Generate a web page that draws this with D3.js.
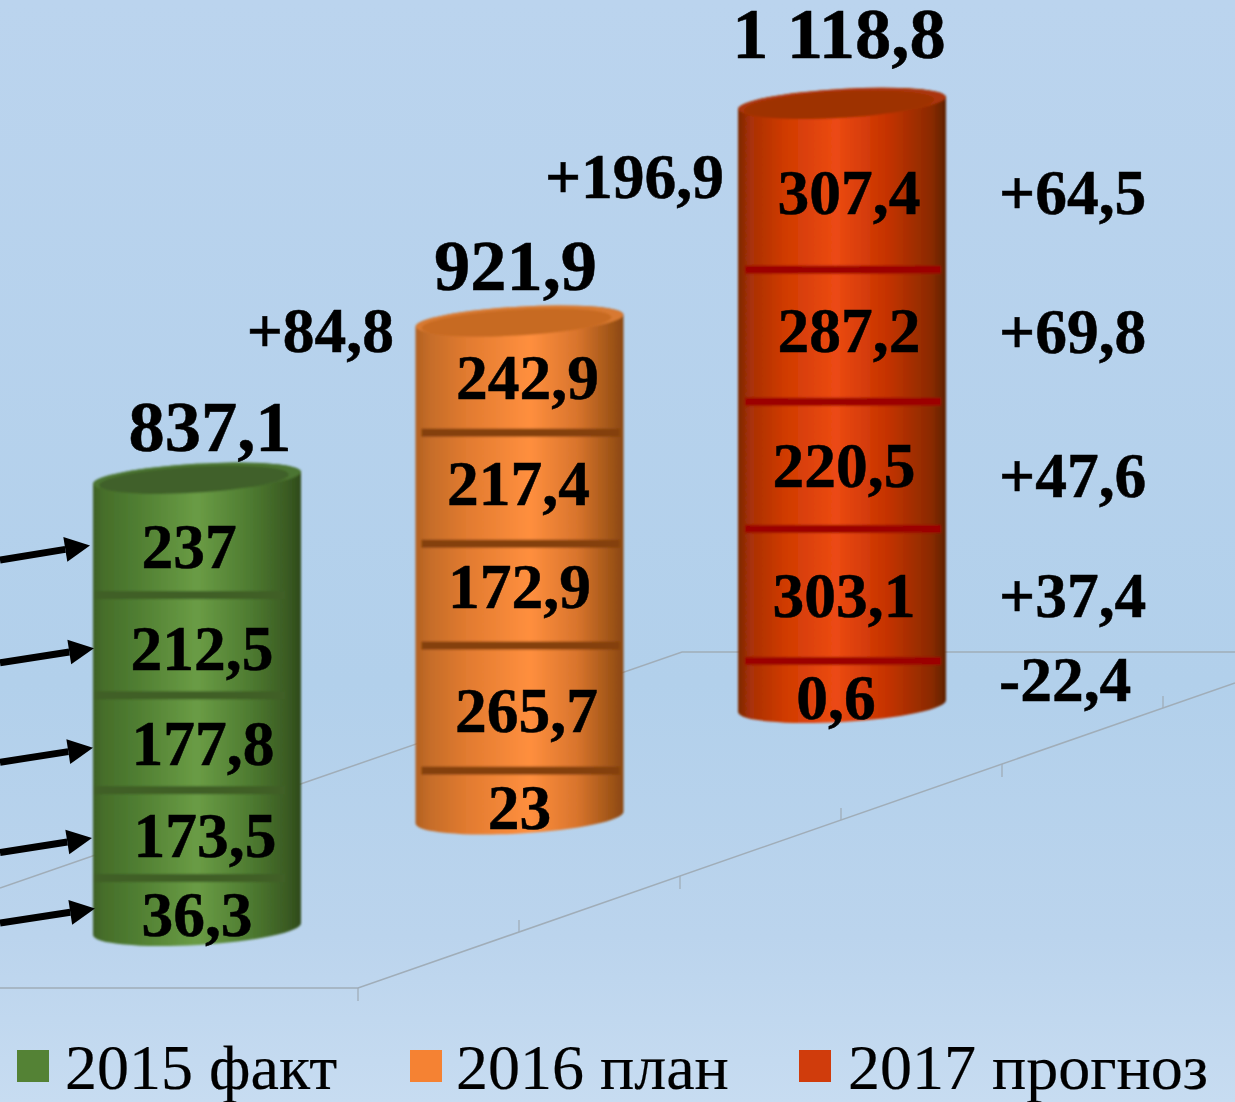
<!DOCTYPE html>
<html lang="ru">
<head>
<meta charset="utf-8">
<script src="https://cdn.jsdelivr.net/npm/d3@7"></script>
<style>
html,body{margin:0;padding:0;background:#bad4ed;overflow:hidden}
svg{display:block}
text{font-family:"Liberation Serif","Times New Roman",serif;fill:#000;stroke:#000;stroke-width:.5;filter:url(#softText)}
</style>
</head>
<body>
<svg id="chart" width="1235" height="1102"></svg>
<script>
// ---- data ----
const categories = ["2015 факт", "2016 план", "2017 прогноз"];
const totals = [837.1, 921.9, 1118.8];
// printed labels, bottom segment first
const labels2015 = [36.3, 173.5, 177.8, 212.5, 237];
const labels2016 = [23, 265.7, 172.9, 217.4, 242.9];
const labels2017 = [0.6, 303.1, 220.5, 287.2, 307.4];
// drawn segment heights as they appear in the picture (the source chart's
// segments do not follow its printed labels), in the same units, bottom first
const drawn2015 = [94.6, 163, 176, 186, 217.5];
const drawn2016 = [87, 232, 189, 206, 207.9];
const drawn2017 = [83.5, 245, 236, 245, 309.3];
const changes2017 = [-22.4, 37.4, 47.6, 69.8, 64.5];
const changesTotal = [84.8, 196.9];
const colors = ["#548235", "#f58233", "#d03c0c"];

// ---- layout ----
const W = 1235, H = 1102;
const svg = d3.select("#chart");
const defs = svg.append("defs");

const xPos = d3.scalePoint().domain(categories).range([197, 842]);
const yBase = d3.scalePoint().domain(categories).range([929, 706]);
const hScale = d3.scaleLinear().domain([0, 1118.8]).range([0, 603]);
const RX = 104, TILT = -3.3, RY_TOP = 14, RY_BOT = 16;
const DY = RX * Math.sin(-TILT * Math.PI / 180);

const fmtLocale = d3.formatLocale({decimal: ",", thousands: " ", grouping: [3], currency: ["", ""]});
const fmt1 = fmtLocale.format(",.1f");
const fmtLabel = v => Number.isInteger(v) ? String(v) : fmt1(v);
const fmtSigned = v => (v > 0 ? "+" : "-") + fmt1(Math.abs(v));

// background
const bg = defs.append("linearGradient").attr("id", "bg").attr("x1", 0).attr("x2", 0).attr("y1", 0).attr("y2", 1);
[[0, "#bbd4ee"], [0.62, "#b2d0eb"], [0.85, "#bbd4ed"], [1, "#c7dcf1"]].forEach(s =>
  bg.append("stop").attr("offset", s[0]).attr("stop-color", s[1]));
svg.append("rect").attr("width", W).attr("height", H).attr("fill", "url(#bg)");

defs.append("filter").attr("id", "soft").append("feGaussianBlur").attr("stdDeviation", 0.9);
defs.append("filter").attr("id", "softText").append("feGaussianBlur").attr("stdDeviation", 0.45);

// floor / wall lines of the 3D frame
const frame = svg.append("g").attr("fill", "none").attr("stroke", "#a0adb8").attr("stroke-width", 1.5);
const sideY = d3.scaleLinear().domain([358, 1235]).range([988, 683]);
const wallY = d3.scaleLinear().domain([0, 682]).range([888, 652]);
frame.append("path").attr("d", d3.line()([[0, 988], [358, 988], [1235, sideY(1235)]]));
frame.append("path").attr("d", d3.line()([[0, wallY(0)], [682, wallY(682)], [1235, 652]]));
const tickX = d3.range(6).map(i => 358 + i * 161);
frame.selectAll("line").data(tickX).join("line")
  .attr("x1", d => d).attr("x2", d => d)
  .attr("y1", d => sideY(d))
  .attr("y2", (d, i) => sideY(d) + (i % 2 === 0 ? 13 : -12))
  .attr("stroke-width", 1.3);

// gradients for the cylinders
const bodyStops = [
  [[0, "#3f6126"], [0.05, "#466e2a"], [0.2, "#4f7d31"], [0.5, "#6a9c45"], [0.75, "#4f7c31"], [0.93, "#3b5c23"], [1, "#2f4a1a"]],
  [[0, "#b2601f"], [0.06, "#c46c28"], [0.25, "#e27b30"], [0.55, "#ff8f3e"], [0.78, "#d8742c"], [0.94, "#a05518"], [1, "#8a4710"]],
  [[0, "#7c2806"], [0.06, "#a83007"], [0.22, "#cf3a02"], [0.47, "#ec4a13"], [0.72, "#c43200"], [0.93, "#8a2b02"], [1, "#5e2207"]]
];
const capFill = ["#4c7530", "#d87930", "#ab3608"];
const capInner = ["#40602a", "#c76a24", "#9e3002"];
const dividerFill = ["#3f5f26", "#84400f", "#9c0000"];
bodyStops.forEach((stops, i) => {
  const g = defs.append("linearGradient").attr("id", "body" + i).attr("x1", 0).attr("x2", 1).attr("y1", 0).attr("y2", 0);
  stops.forEach(s => g.append("stop").attr("offset", s[0]).attr("stop-color", s[1]));
});

const series = categories.map((c, i) => {
  const drawn = [drawn2015, drawn2016, drawn2017][i];
  const printed = [labels2015, labels2016, labels2017][i];
  const cx = xPos(c), base = yBase(c);
  const top = base - hScale(totals[i]);
  const tops = d3.cumsum(drawn).map(v => base - hScale(v));
  const segs = printed.map((v, k) => ({
    value: v,
    yTop: tops[k],
    yBot: k === 0 ? base : tops[k - 1]
  }));
  return {c, i, cx, base, top, segs};
});

// label nudges relative to the segment centre (bottom segment first)
const nudgeX = [[0, 8, 6, 5, -8], [0, 7, 0, -1, 8], [-6, 2, 2, 7, 7]];
const nudgeY = [[32, 23, 22, 25, 32], [35, 24, 13, 17, 22], [36, 22, 22, 16, 28]];
const dividerInset = [[0, 16], [6, 4], [7, 5]];

const cyl = svg.selectAll("g.cyl").data(series).join("g").attr("class", "cyl");
const soft = cyl.append("g").attr("filter", "url(#soft)");

soft.append("path")
  .attr("fill", d => `url(#body${d.i})`)
  .attr("d", d => {
    const x0 = d.cx - RX, x1 = d.cx + RX;
    return `M${x0},${d.top + DY} L${x0},${d.base + DY}
      A${RX},${RY_BOT} ${TILT} 0 0 ${x1},${d.base - DY}
      L${x1},${d.top - DY}
      A${RX},${RY_TOP} ${TILT} 0 0 ${x0},${d.top + DY} Z`;
  });
soft.append("ellipse")
  .attr("rx", RX).attr("ry", RY_TOP)
  .attr("transform", d => `translate(${d.cx},${d.top}) rotate(${TILT})`)
  .attr("fill", d => capFill[d.i]);
soft.append("ellipse")
  .attr("rx", RX - 9).attr("ry", RY_TOP - 1)
  .attr("transform", d => `translate(${d.cx - 3},${d.top + 2}) rotate(${TILT})`)
  .attr("fill", d => capInner[d.i]);

// dividers between the segments
soft.each(function(d) {
  d3.select(this).selectAll("rect.div").data(d.segs.slice(0, 4)).join("rect")
    .attr("class", "div")
    .attr("x", d.cx - RX + dividerInset[d.i][0])
    .attr("width", 2 * RX - dividerInset[d.i][0] - dividerInset[d.i][1])
    .attr("y", s => s.yTop - 4)
    .attr("height", 8)
    .attr("fill", dividerFill[d.i]);
});

// segment labels
cyl.each(function(d) {
  d3.select(this).selectAll("text.seg").data(d.segs).join("text")
    .attr("class", "seg")
    .attr("x", (s, k) => d.cx + nudgeX[d.i][k])
    .attr("y", (s, k) => (s.yTop + s.yBot) / 2 + nudgeY[d.i][k])
    .attr("text-anchor", "middle")
    .attr("font-size", 63.5).attr("font-weight", 700)
    .text(s => fmtLabel(s.value));
});

// totals above cylinders
const totalDx = [13, -4, -3];
const totalDy = [-27, -31, -45];
svg.selectAll("text.total").data(series).join("text")
  .attr("class", "total")
  .attr("x", d => d.cx + totalDx[d.i])
  .attr("y", d => d.top + totalDy[d.i])
  .attr("text-anchor", "middle")
  .attr("font-size", 72.5).attr("font-weight", 700)
  .text(d => fmt1(totals[d.i]));

// total changes to the left of cylinders
const changeXEnd = [394, 724];
const changeDy = [31, 95];
svg.selectAll("text.chg").data(changesTotal).join("text")
  .attr("class", "chg")
  .attr("x", (d, i) => changeXEnd[i])
  .attr("y", (d, i) => series[i + 1].top + changeDy[i])
  .attr("text-anchor", "end")
  .attr("font-size", 63.5).attr("font-weight", 700)
  .text(fmtSigned);

// per-segment changes to the right of the last cylinder
const deltaNudge = [-18, 0, 10, 1, 0];
svg.selectAll("text.delta").data(changes2017).join("text")
  .attr("class", "delta")
  .attr("x", 999)
  .attr("y", (d, k) => {
    const s = series[2].segs[k];
    return (s.yTop + s.yBot) / 2 + nudgeY[2][k] + deltaNudge[k];
  })
  .attr("font-size", 63.5).attr("font-weight", 700)
  .text(fmtSigned);

// arrows pointing at the first cylinder's segments
const arrowTipX = [95, 92, 93, 94, 90];
const arrowTipDy = [5, 4, 5, 3, 9];
const arrows = svg.append("g");
series[0].segs.forEach((s, k) => {
  const ty = (s.yTop + s.yBot) / 2 + arrowTipDy[k], tx = arrowTipX[k];
  const ang = Math.atan2(14.5, tx);
  const ux = Math.cos(ang), uy = -Math.sin(ang);
  const bx = tx - 25 * ux, by = ty - 25 * uy;
  arrows.append("line")
    .attr("x1", 0).attr("y1", ty + 14.5).attr("x2", bx).attr("y2", by)
    .attr("stroke", "#000").attr("stroke-width", 7);
  arrows.append("path")
    .attr("fill", "#000")
    .attr("d", d3.line()([[tx, ty],
      [bx + 12.5 * uy * -1, by + 12.5 * ux],
      [bx - 12.5 * uy * -1, by - 12.5 * ux]]) + "Z");
});

// legend
const legendSwatchX = [17, 410, 799];
const legendTextX = [65, 456, 848];
const legend = svg.selectAll("g.leg").data(categories).join("g").attr("class", "leg");
legend.append("rect")
  .attr("x", (d, i) => legendSwatchX[i]).attr("y", 1050)
  .attr("width", 32).attr("height", 32)
  .attr("fill", (d, i) => colors[i]);
legend.append("text")
  .attr("x", (d, i) => legendTextX[i]).attr("y", 1089)
  .attr("font-size", 64)
  .style("stroke-width", 0.2)
  .text(d => d);
</script>
</body>
</html>
